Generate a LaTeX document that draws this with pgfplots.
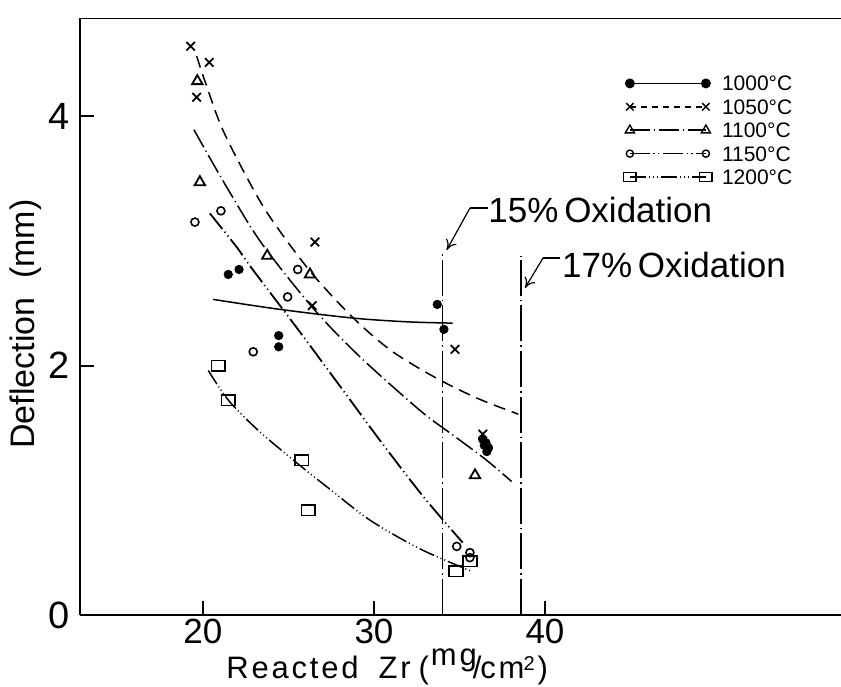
\documentclass[border=0pt]{standalone}
\usepackage{fontspec}
\setmainfont{Liberation Sans}
\newfontfamily\lblfont{Liberation Sans}[LetterSpace=9]
\usepackage{pgfplots}
\pgfplotsset{compat=1.18}
\usetikzlibrary{arrows.meta}

\pgfdeclareplotmark{rect}{%
  \pgfpathrectangle{\pgfpoint{-3.4pt}{-2.6pt}}{\pgfpoint{6.8pt}{5.2pt}}%
  \pgfusepathqstroke}

\tikzset{
  d1000/.style={solid, line width=0.75pt},
  d1050/.style={dash pattern=on 6pt off 3.5pt, line width=0.75pt},
  d1100/.style={dash pattern=on 10pt off 2pt on 0.6pt off 2pt, line width=0.75pt},
  d1150/.style={dash pattern=on 10pt off 1.8pt on 0.6pt off 1.8pt on 0.6pt off 1.8pt, line width=0.9pt},
  d1200/.style={dash pattern=on 8pt off 1.5pt on 0.5pt off 1.5pt on 0.5pt off 1.5pt on 0.5pt off 1.5pt, line width=0.75pt},
  dox/.style={dash pattern=on 18pt off 2pt on 0.8pt off 2pt, line width=0.7pt},
}

\begin{document}
\begin{tikzpicture}
\useasboundingbox (0,0) rectangle (420.5pt,343pt);
\begin{axis}[
  at={(40pt,35.5pt)}, anchor=south west,
  scale only axis, width=380.5pt, height=298.5pt,
  xmin=12.81, xmax=57.31, ymin=0, ymax=4.786,
  axis lines*=left,
  axis line style={line width=1.2pt, -},
  xtick={20,30,40}, ytick={0,2,4},
  tick align=inside, major tick length=7pt,
  tick style={line width=1pt, black},
  /pgf/number format/assume math mode=true,
  xticklabel style={font=\fontsize{17.5}{17.5}\selectfont, inner sep=0pt, yshift=-2pt},
  yticklabel style={font=\fontsize{19}{19}\selectfont, inner sep=0pt, xshift=-5pt},
  legend image code/.code={\draw[#1] plot coordinates {(0pt,0pt) (38pt,0pt)};},
  legend cell align=left,
  legend style={at={(rel axis cs:0.714,0.907)}, anchor=north west, draw=none, fill=none,
    inner sep=0pt, font=\fontsize{10.5}{10.5}\selectfont, row sep=2.2pt,
    nodes={inner sep=1pt, text height=7.5pt, text depth=0pt},
    /tikz/every odd column/.append style={column sep=4pt}},
]
\draw[line width=1.2pt] (rel axis cs:0,1) -- (rel axis cs:1,1);

% legend entries
\addlegendimage{d1000, mark=*, mark size=2.1pt, mark options={solid}}
\addlegendentry{1000°C}
\addlegendimage{d1050, dash pattern=on 3pt off 2.5pt, mark=x, mark size=2.6pt, mark options={solid, line width=0.7pt}}
\addlegendentry{1050°C}
\addlegendimage{d1100, mark=triangle, mark size=2.6pt, mark options={solid, line width=0.7pt}}
\addlegendentry{1100°C}
\addlegendimage{d1150, line width=0.75pt, mark=o, mark size=1.8pt, mark options={solid, line width=0.7pt}}
\addlegendentry{1150°C}
\addlegendimage{d1200, mark=rect, mark options={solid, line width=0.7pt, scale=0.9}}
\addlegendentry{1200°C}

% oxidation limits
\addplot[dox, forget plot] coordinates {(34.02,0) (34.02,2.90)};
\addplot[dox, forget plot] coordinates {(38.6,0) (38.6,2.88)};

% fitted curves
\addplot[d1000, smooth, no marks, forget plot] coordinates {
 (20.6,2.53) (24.5,2.45) (28.8,2.38) (32,2.35) (34.6,2.34)};
\addplot[d1050, smooth, no marks, forget plot] coordinates {
 (19.63,4.48) (21.0,3.94) (22.56,3.51) (23.92,3.19) (26.3,2.75) (28.8,2.38) (31,2.12) (33.5,1.91) (36,1.74) (38.44,1.61)};
\addplot[d1100, smooth, no marks, forget plot] coordinates {
 (19.47,3.89) (21.39,3.43) (23.43,2.98) (26.5,2.45) (29.18,2.07) (32.69,1.64) (34.64,1.44) (36.5,1.25) (38.05,1.07)};
\addplot[d1150, smooth, no marks, forget plot] coordinates {
 (20.4,3.22) (21.97,2.95) (22.85,2.78) (25.5,2.30) (28.2,1.80) (30.35,1.40) (32.88,0.95) (35.19,0.58)};
\addplot[d1200, smooth, no marks, forget plot] coordinates {
 (20.31,1.96) (21.5,1.72) (23.23,1.48) (25.48,1.22) (27.5,1.00) (29.77,0.76) (32.69,0.53) (35.71,0.35)};

% data points
\addplot[only marks, mark=*, mark size=2.1pt, forget plot] coordinates {
 (21.48,2.73) (22.11,2.77) (24.43,2.24) (24.43,2.15) (33.70,2.49) (34.09,2.29)
 (36.35,1.41) (36.55,1.38) (36.7,1.34) (36.6,1.31) (36.45,1.36)};
\addplot[only marks, mark=x, mark size=3pt, mark options={line width=0.9pt}, forget plot] coordinates {
 (19.28,4.56) (20.37,4.43) (19.63,4.15) (26.55,2.99) (26.39,2.48) (34.74,2.13) (36.36,1.45)};
\addplot[only marks, mark=triangle, mark size=3pt, mark options={line width=0.9pt}, forget plot] coordinates {
 (19.67,4.28) (19.82,3.47) (23.76,2.88) (26.26,2.73) (35.91,1.12)};
\addplot[only marks, mark=o, mark size=2pt, mark options={line width=0.8pt}, forget plot] coordinates {
 (19.53,3.15) (21.05,3.24) (22.94,2.11) (24.95,2.55) (25.54,2.77) (34.84,0.55) (35.61,0.50) (35.61,0.46)};
\addplot[only marks, mark=rect, mark options={line width=0.8pt}, forget plot] coordinates {
 (20.89,2.00) (21.48,1.72) (25.77,1.24) (26.16,0.84) (35.61,0.43) (34.80,0.35)};
\end{axis}

\begin{scope}[shift={(0,343pt)}, x=0.5pt, y=-0.5pt]
  % axis titles
  \node[rotate=90, font=\fontsize{17}{17}\selectfont] at (26,324) {Deflection\ \ (mm)};
  \node[anchor=base west, inner sep=0pt, font=\fontsize{15.5}{15.5}\lblfont] at (226,678)
    {Reacted\hspace{10pt}Zr\hspace{4pt}(\kern1pt\raisebox{0.4em}{mg}\kern-2pt/\kern-0.5pt cm\kern-0.5pt\raisebox{0.25em}{\fontsize{10}{10}\selectfont 2}\kern1.5pt)};
  % oxidation labels
  \draw[line width=0.6pt] (488,208) -- (470,208);
  \draw[line width=0.6pt, -{To[length=5pt,width=6pt]}] (470,208) -- (446.7,250);
  \node[anchor=west, inner sep=0pt, font=\fontsize{17.5}{17.5}\selectfont] at (488,210) {15\%\,Oxidation};
  \draw[line width=0.6pt] (560,258) -- (543,258);
  \draw[line width=0.6pt, -{To[length=5pt,width=6pt]}] (543,258) -- (525,288);
  \node[anchor=west, inner sep=0pt, font=\fontsize{17.5}{17.5}\selectfont] at (561.7,265) {17\%\,Oxidation};
\end{scope}
\end{tikzpicture}
\end{document}
